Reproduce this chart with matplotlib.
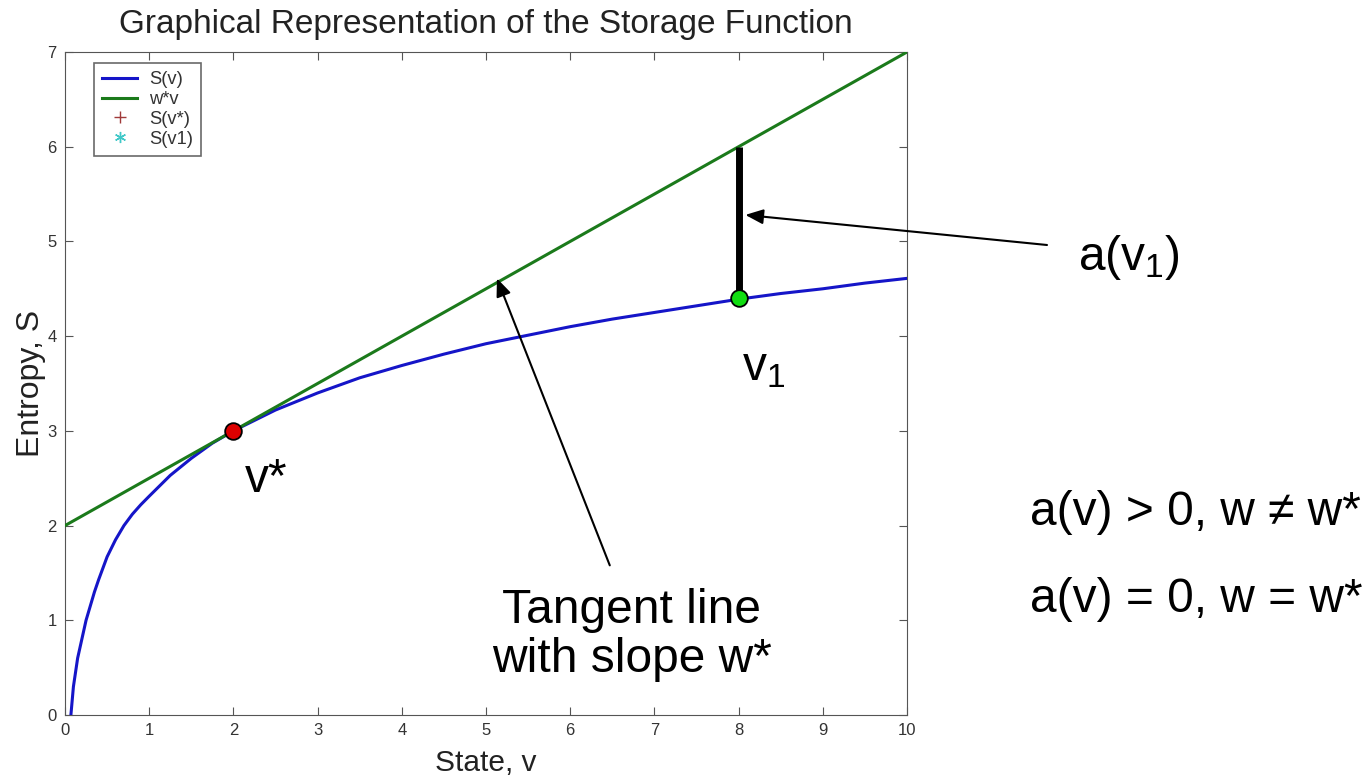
import matplotlib
matplotlib.use("Agg")
import matplotlib.pyplot as plt

plt.rcParams['font.family'] = ['Liberation Sans', 'DejaVu Sans']
plt.rcParams['mathtext.fontset'] = 'custom'
plt.rcParams['mathtext.rm'] = 'Liberation Sans'
plt.rcParams['mathtext.it'] = 'Liberation Sans'

# Storage function S(v)
v_vals = [0.07, 0.1, 0.15, 0.2, 0.25, 0.3, 0.35, 0.4, 0.45, 0.5, 0.6, 0.7, 0.8,
          0.9, 1.0, 1.25, 1.5, 1.75, 2.0, 2.5, 3.0, 3.5, 4.0, 4.5, 5.0, 5.5,
          6.0, 6.5, 7.0, 7.5, 8.0, 8.5, 9.0, 9.5, 10.0]
s_vals = [0.0, 0.3, 0.6, 0.8, 1.0, 1.15, 1.3, 1.43, 1.55, 1.67, 1.85, 2.0, 2.12,
          2.22, 2.31, 2.53, 2.71, 2.87, 3.0, 3.22, 3.4, 3.56, 3.69, 3.81, 3.92,
          4.01, 4.1, 4.18, 4.25, 4.32, 4.39, 4.45, 4.5, 4.56, 4.61]
# tangent line w*v
line_v = [0.0, 10.0]
line_s = [2.0, 7.0]
# special points
v_star, s_star = 2.0, 3.0
v_one, s_one = 8.0, 4.4
s_one_line = 6.0

W, H = 1368, 781
fig = plt.figure(figsize=(W / 100, H / 100), dpi=100)
ax = fig.add_axes([65 / W, 1 - 715 / H, 842 / W, 663 / H])

ax.plot(v_vals, s_vals, color='#1515c8', lw=2.2, label='S(v)', zorder=3)
ax.plot(line_v, line_s, color='#1b7a1b', lw=2.2, label='w*v', zorder=3)
ax.plot([], [], '+', color='#a03a3a', ms=8, label='S(v*)')
ax.plot([], [], marker=(6, 2, 0), ls='none', color='#40c8c8', ms=8, label='S(v1)')

ax.plot([v_one, v_one], [s_one, s_one_line], color='black', lw=5, zorder=4,
        solid_capstyle='butt')
ax.plot([v_star], [s_star], 'o', ms=12, mfc='#dd0000', mec='black', mew=1.3, zorder=5)
ax.plot([v_one], [s_one], 'o', ms=12, mfc='#11dd11', mec='black', mew=1.3, zorder=5)

ax.set_xlim(0, 10)
ax.set_ylim(0, 7)
ax.set_xticks(range(0, 11))
ax.set_yticks(range(0, 8))
ax.tick_params(direction='in', top=True, right=True, labelsize=12, length=6,
               color='#555555', labelcolor='#333333', pad=6)
for sp in ax.spines.values():
    sp.set_color('#555555')

ax.set_title('Graphical Representation of the Storage Function', fontsize=24,
             pad=13.5, color='#222222')
ax.set_xlabel('State, v', fontsize=21.5, labelpad=8, color='#222222')
ax.set_ylabel('Entropy, S', fontsize=23, labelpad=1, color='#222222')

leg = ax.legend(loc='upper left', fontsize=13.2, frameon=True, fancybox=False,
                edgecolor='#444444', borderpad=0.45, labelspacing=0.15,
                handlelength=1.9, handletextpad=0.65, borderaxespad=0,
                bbox_to_anchor=(29 / 842, 1 - 11 / 663))
leg.get_frame().set_linewidth(1.2)
for t in leg.get_texts():
    t.set_color('#333333')

txt = 34.5
ax.text(2.14, 2.355, 'v*', fontsize=txt, va='baseline', clip_on=False)
ax.text(8.04, 3.54, r'v$_\mathregular{1}$', fontsize=txt, va='baseline', clip_on=False)
ax.text((632 - 65) / 84.2, (715 - 623) / 94.7, 'Tangent line', fontsize=txt,
        ha='center', va='baseline')
ax.text((632 - 65) / 84.2, (715 - 672) / 94.7, 'with slope w*', fontsize=txt,
        ha='center', va='baseline')

arrow = dict(arrowstyle='-|>,head_length=0.6,head_width=0.25', color='black',
             lw=1.5, mutation_scale=18, shrinkA=0, shrinkB=0)
ax.annotate('', xy=(5.13, 4.61), xytext=(6.47, 1.58), arrowprops=arrow)
ax.annotate('', xy=(8.08, 5.28), xycoords='data',
            xytext=(1047 / W, 1 - 245 / H), textcoords='figure fraction',
            arrowprops=arrow)

fig.text(1078 / W, 1 - 270 / H, r'a(v$_\mathregular{1}$)', fontsize=txt, va='baseline')
fig.text(1030 / W, 1 - 525 / H, 'a(v) > 0, w \u2260 w*', fontsize=txt, va='baseline')
fig.text(1030 / W, 1 - 612 / H, 'a(v) = 0, w = w*', fontsize=txt, va='baseline')

fig.savefig('out.png', dpi=100)
